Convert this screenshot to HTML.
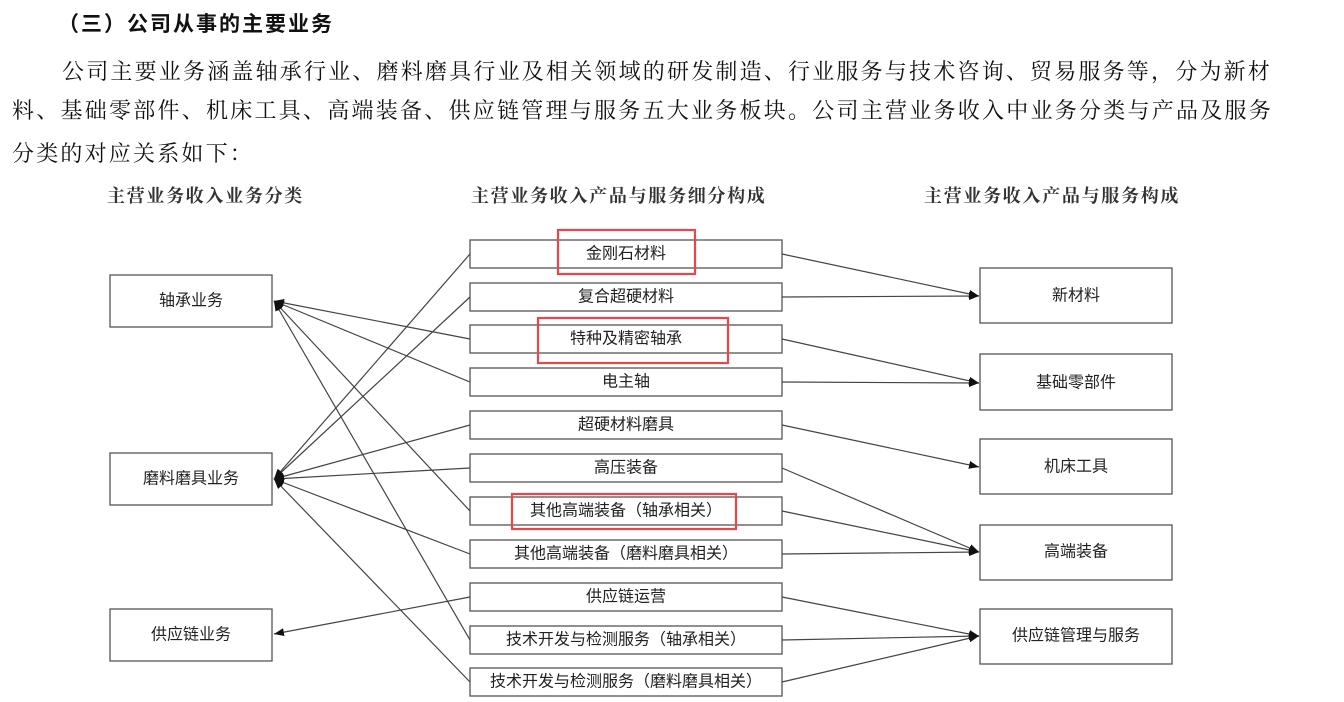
<!DOCTYPE html>
<html><head><meta charset="utf-8"><style>
html,body{margin:0;padding:0;background:#fff;width:1344px;height:702px;overflow:hidden;position:relative}
.t{position:absolute;white-space:nowrap;color:#111}
.p{font-family:"Liberation Serif","Noto Serif CJK SC",serif;font-size:22px;letter-spacing:2.2px}
.h{font-family:"Liberation Sans","Noto Sans CJK SC",sans-serif;font-size:21px;font-weight:bold;letter-spacing:2px}
.c{font-family:"Liberation Serif","Noto Serif CJK SC",serif;font-size:18px;font-weight:bold;letter-spacing:1.7px;color:#333}
svg{position:absolute;left:0;top:0}
svg text{font-family:"Liberation Sans","Noto Sans CJK SC",sans-serif;font-size:16px;fill:#222;text-anchor:middle;dominant-baseline:central}
</style></head><body>
<div class="t h" style="left:58px;top:8px">（三）公司从事的主要业务</div>
<div class="t p" style="left:62px;top:55px">公司主要业务涵盖轴承行业、磨料磨具行业及相关领域的研发制造、行业服务与技术咨询、贸易服务等，分为新材</div>
<div class="t p" style="left:12px;top:94px;letter-spacing:2.25px">料、基础零部件、机床工具、高端装备、供应链管理与服务五大业务板块。公司主营业务收入中业务分类与产品及服务</div>
<div class="t p" style="left:12px;top:137px">分类的对应关系如下：</div>
<div class="t c" style="left:107px;top:182px">主营业务收入业务分类</div>
<div class="t c" style="left:471px;top:182px">主营业务收入产品与服务细分构成</div>
<div class="t c" style="left:924px;top:182px">主营业务收入产品与服务构成</div>
<svg width="1344" height="702" viewBox="0 0 1344 702">
<defs><marker id="a" markerWidth="10" markerHeight="8" refX="10" refY="4" orient="auto" markerUnits="userSpaceOnUse"><path d="M0,0L10,4L0,8z" fill="#111"/></marker></defs>
<g fill="#fff" stroke="#555" stroke-width="1.3">
<rect x="110" y="275" width="162" height="52"/>
<rect x="110" y="453" width="162" height="52"/>
<rect x="110" y="609" width="162" height="52"/>
<rect x="470" y="240" width="312" height="28"/>
<rect x="470" y="283" width="312" height="28"/>
<rect x="470" y="325" width="312" height="28"/>
<rect x="470" y="368" width="312" height="28"/>
<rect x="470" y="411" width="312" height="28"/>
<rect x="470" y="454" width="312" height="28"/>
<rect x="470" y="497" width="312" height="28"/>
<rect x="470" y="540" width="312" height="28"/>
<rect x="470" y="583" width="312" height="28"/>
<rect x="470" y="626" width="312" height="28"/>
<rect x="470" y="668" width="312" height="28"/>
<rect x="980" y="268" width="192" height="55"/>
<rect x="980" y="354" width="192" height="56"/>
<rect x="980" y="439" width="192" height="55"/>
<rect x="980" y="525" width="192" height="55"/>
<rect x="980" y="609" width="192" height="55"/>
</g>
<g stroke="#444" stroke-width="1.2" fill="none">
<line x1="470" y1="339" x2="274" y2="301" marker-end="url(#a)"/>
<line x1="470" y1="382" x2="274" y2="301" marker-end="url(#a)"/>
<line x1="470" y1="511" x2="274" y2="301" marker-end="url(#a)"/>
<line x1="470" y1="640" x2="274" y2="301" marker-end="url(#a)"/>
<line x1="470" y1="254" x2="274" y2="479" marker-end="url(#a)"/>
<line x1="470" y1="297" x2="274" y2="479" marker-end="url(#a)"/>
<line x1="470" y1="425" x2="274" y2="479" marker-end="url(#a)"/>
<line x1="470" y1="468" x2="274" y2="479" marker-end="url(#a)"/>
<line x1="470" y1="554" x2="274" y2="479" marker-end="url(#a)"/>
<line x1="470" y1="682" x2="274" y2="479" marker-end="url(#a)"/>
<line x1="470" y1="597" x2="274" y2="634" marker-end="url(#a)"/>
<line x1="782" y1="254" x2="979" y2="296" marker-end="url(#a)"/>
<line x1="782" y1="297" x2="979" y2="296" marker-end="url(#a)"/>
<line x1="782" y1="339" x2="979" y2="383" marker-end="url(#a)"/>
<line x1="782" y1="382" x2="979" y2="383" marker-end="url(#a)"/>
<line x1="782" y1="425" x2="979" y2="467" marker-end="url(#a)"/>
<line x1="782" y1="468" x2="979" y2="552" marker-end="url(#a)"/>
<line x1="782" y1="511" x2="979" y2="552" marker-end="url(#a)"/>
<line x1="782" y1="554" x2="979" y2="552" marker-end="url(#a)"/>
<line x1="782" y1="597" x2="979" y2="636" marker-end="url(#a)"/>
<line x1="782" y1="640" x2="979" y2="636" marker-end="url(#a)"/>
<line x1="782" y1="682" x2="979" y2="636" marker-end="url(#a)"/>
</g>
<text x="191" y="301">轴承业务</text>
<text x="191" y="479">磨料磨具业务</text>
<text x="191" y="635">供应链业务</text>
<text x="626" y="254">金刚石材料</text>
<text x="626" y="297">复合超硬材料</text>
<text x="626" y="339">特种及精密轴承</text>
<text x="626" y="382">电主轴</text>
<text x="626" y="425">超硬材料磨具</text>
<text x="626" y="468">高压装备</text>
<text x="626" y="511">其他高端装备（轴承相关）</text>
<text x="626" y="554">其他高端装备（磨料磨具相关）</text>
<text x="626" y="597">供应链运营</text>
<text x="626" y="640">技术开发与检测服务（轴承相关）</text>
<text x="626" y="682">技术开发与检测服务（磨料磨具相关）</text>
<text x="1076" y="296">新材料</text>
<text x="1076" y="383">基础零部件</text>
<text x="1076" y="467">机床工具</text>
<text x="1076" y="552">高端装备</text>
<text x="1076" y="636">供应链管理与服务</text>
<g fill="none" stroke="#e8474a" stroke-width="2.2">
<rect x="558" y="230" width="137" height="44"/>
<rect x="538" y="318" width="190" height="45"/>
<rect x="512" y="494" width="224" height="35"/>
</g>
</svg>
</body></html>
